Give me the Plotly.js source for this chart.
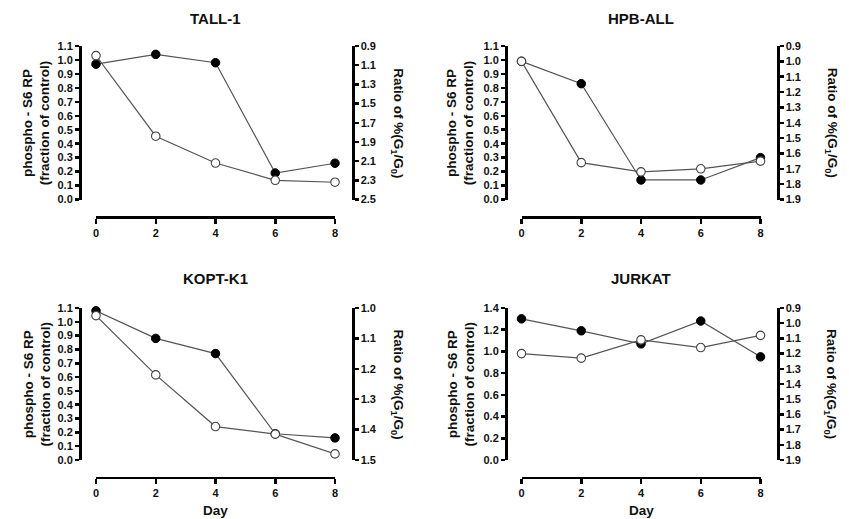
<!DOCTYPE html>
<html>
<head>
<meta charset="utf-8">
<script src="https://cdn.plot.ly/plotly-3.0.1.min.js"></script>
<style>html,body{margin:0;padding:0;background:#fff;}#chart{width:849px;height:519px;}</style>
</head>
<body>
<div id="chart"></div>
<script>
// ---- data ----
const days = [0, 2, 4, 6, 8];
const panelNames = ['TALL-1', 'HPB-ALL', 'KOPT-K1', 'JURKAT'];
// filled circles: phospho-S6 RP (fraction of control), left axis
const tall1Phospho  = [0.97, 1.04, 0.98, 0.19, 0.26];
const hpbPhospho    = [0.99, 0.83, 0.14, 0.14, 0.30];
const koptPhospho   = [1.08, 0.88, 0.77, 0.19, 0.16];
const jurkatPhospho = [1.30, 1.19, 1.07, 1.28, 0.95];
// open circles: ratio of %(G1/G0), right (reversed) axis
const tall1Ratio  = [1.00, 1.84, 2.12, 2.30, 2.32];
const hpbRatio    = [1.00, 1.66, 1.72, 1.70, 1.65];
const koptRatio   = [1.025, 1.22, 1.39, 1.415, 1.48];
const jurkatRatio = [1.20, 1.23, 1.11, 1.16, 1.08];
const dayTicks = [0, 2, 4, 6, 8];
const leftTitle = 'phospho - S6 RP<br>(fraction of control)';
const rightTitle = 'Ratio of %(G<sub>1</sub>/G<sub>0</sub>)';
const xTitle = 'Day';

// ---- layout helpers ----
const W = 849, H = 519;
const fx = p => p / W, fy = p => 1 - p / H;
const FONT = 'Liberation Sans, Arial, Helvetica, sans-serif';

const panels = [
  {name: panelNames[0], ph: tall1Phospho, ra: tall1Ratio, lr: [0, 1.1], ld: 0.1, rr: [2.5, 0.9], rd: 0.2, r0: 0.9,
   xd: [96, 335], yd: [46, 199.5], xy: 217, la: 80, raX: 353, ltx: 36.5, rtx: 397.5, ty: 18.5, day: false},
  {name: panelNames[1], ph: hpbPhospho, ra: hpbRatio, lr: [0, 1.1], ld: 0.1, rr: [1.9, 0.9], rd: 0.1, r0: 0.9,
   xd: [521.5, 760.5], yd: [46, 199.5], xy: 217, la: 506, raX: 778, ltx: 460.5, rtx: 831, ty: 18.5, day: false},
  {name: panelNames[2], ph: koptPhospho, ra: koptRatio, lr: [0, 1.1], ld: 0.1, rr: [1.5, 1.0], rd: 0.1, r0: 1.0,
   xd: [96, 335], yd: [308, 460], xy: 477.5, la: 80, raX: 353, ltx: 36.5, rtx: 397.5, ty: 278.5, day: true},
  {name: panelNames[3], ph: jurkatPhospho, ra: jurkatRatio, lr: [0, 1.4], ld: 0.2, rr: [1.9, 0.9], rd: 0.1, r0: 0.9,
   xd: [521.5, 760.5], yd: [308, 460], xy: 477.5, la: 506, raX: 778, ltx: 460.5, rtx: 831, ty: 278.5, day: true}
];

const data = [];
const layout = {
  width: W, height: H, autosize: false,
  margin: {l: 0, r: 0, t: 0, b: 0},
  paper_bgcolor: '#fff', plot_bgcolor: 'rgba(0,0,0,0)',
  showlegend: false,
  font: {family: FONT, color: '#111'},
  annotations: []
};

const axisCommon = {
  showgrid: false, zeroline: false, showline: true,
  linecolor: '#000', linewidth: 2.5,
  ticks: 'outside', ticklen: 4, tickwidth: 2.5, tickcolor: '#000',
  tickfont: {family: FONT, size: 11, color: '#111', weight: 700},
  fixedrange: true
};

panels.forEach((p, i) => {
  const xi = i + 1;
  const yl = 2 * i + 1, yr = 2 * i + 2;
  const xName = xi === 1 ? 'x' : 'x' + xi;
  const ylName = yl === 1 ? 'y' : 'y' + yl;
  const yrName = 'y' + yr;
  const xKey = xi === 1 ? 'xaxis' : 'xaxis' + xi;
  const ylKey = yl === 1 ? 'yaxis' : 'yaxis' + yl;
  const yrKey = 'yaxis' + yr;

  data.push({
    x: days, y: p.ph, xaxis: xName, yaxis: ylName, type: 'scatter', mode: 'lines+markers',
    line: {color: '#555', width: 1.2},
    marker: {symbol: 'circle', size: 8.5, color: '#000', line: {color: '#000', width: 1}},
    cliponaxis: false, hoverinfo: 'skip'
  });
  data.push({
    x: days, y: p.ra, xaxis: xName, yaxis: yrName, type: 'scatter', mode: 'lines+markers',
    line: {color: '#555', width: 1.2},
    marker: {symbol: 'circle', size: 8.5, color: '#fff', line: {color: '#444', width: 1.1}},
    cliponaxis: false, hoverinfo: 'skip'
  });

  layout[xKey] = Object.assign({}, axisCommon, {
    domain: [fx(p.xd[0]), fx(p.xd[1])], range: [0, 8],
    tickmode: 'array', tickvals: dayTicks, ticktext: dayTicks.map(String),
    ticklen: 5, anchor: 'free', position: fy(p.xy)
  });
  layout[ylKey] = Object.assign({}, axisCommon, {
    domain: [fy(p.yd[1]), fy(p.yd[0])], range: p.lr,
    tickmode: 'linear', tick0: 0, dtick: p.ld, tickformat: '.1f',
    anchor: 'free', position: fx(p.la), side: 'left'
  });
  layout[yrKey] = Object.assign({}, axisCommon, {
    domain: [fy(p.yd[1]), fy(p.yd[0])], range: p.rr,
    tickmode: 'linear', tick0: p.r0, dtick: p.rd, tickformat: '.1f',
    anchor: 'free', position: fx(p.raX), side: 'right', overlaying: ylName
  });

  const yc = (p.yd[0] + p.yd[1]) / 2;
  const xc = (p.xd[0] + p.xd[1]) / 2;
  layout.annotations.push({
    xref: 'paper', yref: 'paper', x: fx(xc), y: fy(p.ty), xanchor: 'center', yanchor: 'middle',
    text: p.name, showarrow: false, font: {family: FONT, size: 15, color: '#111', weight: 700}
  });
  layout.annotations.push({
    xref: 'paper', yref: 'paper', x: fx(p.ltx), y: fy(yc), xanchor: 'center', yanchor: 'middle',
    text: leftTitle, textangle: -90, showarrow: false,
    font: {family: FONT, size: 13.5, color: '#111', weight: 700}
  });
  layout.annotations.push({
    xref: 'paper', yref: 'paper', x: fx(p.rtx), y: fy(yc), xanchor: 'center', yanchor: 'middle',
    text: rightTitle, textangle: 90, showarrow: false,
    font: {family: FONT, size: 13.5, color: '#111', weight: 700}
  });
  if (p.day) {
    layout.annotations.push({
      xref: 'paper', yref: 'paper', x: fx(xc), y: fy(510.5), xanchor: 'center', yanchor: 'middle',
      text: xTitle, showarrow: false, font: {family: FONT, size: 13.5, color: '#111', weight: 700}
    });
  }
});

Plotly.newPlot('chart', data, layout, {staticPlot: true, displayModeBar: false});
</script>
</body>
</html>
